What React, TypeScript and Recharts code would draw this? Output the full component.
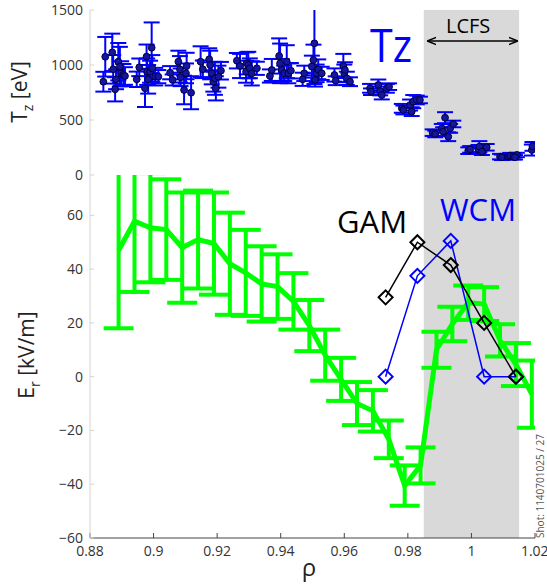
import React from 'react'
import {
  ScatterChart, Scatter, ComposedChart, Line, XAxis, YAxis, ErrorBar, ReferenceArea
} from 'recharts'

// impurity temperature (top panel)
const RHO_T = [
  0.8842, 0.8848, 0.8870, 0.8873, 0.8879, 0.8882, 0.8889, 0.8894, 0.8898, 0.8905, 0.8910,
  0.8947, 0.8955, 0.8973, 0.8978, 0.8980, 0.8983, 0.8989, 0.8994, 0.8996, 0.9005, 0.9015,
  0.9052, 0.9060, 0.9078, 0.9083, 0.9085, 0.9096, 0.9104, 0.9102, 0.9118,
  0.9148, 0.9155, 0.9175, 0.9178, 0.9183, 0.9188, 0.9193, 0.9196, 0.9212, 0.9204,
  0.9262, 0.9272, 0.9291, 0.9293, 0.9298, 0.9303, 0.9309, 0.9325,
  0.9366, 0.9372, 0.9395, 0.9398, 0.9403, 0.9411, 0.9419, 0.9424, 0.9432,
  0.9469, 0.9474, 0.9498, 0.9506, 0.9508, 0.9513, 0.9518, 0.9529, 0.9503,
  0.9569, 0.9573, 0.9597, 0.9600, 0.9608, 0.9618, 0.9602,
  0.9681, 0.9684, 0.9707, 0.9713, 0.9718, 0.9734, 0.9741,
  0.9781, 0.9786, 0.9807, 0.9812, 0.9817, 0.9828, 0.9838,
  0.9878, 0.9886, 0.9907, 0.9911, 0.9917, 0.9927, 0.9933, 0.9943,
  0.9990, 0.9996, 1.0022, 1.0025, 1.0033, 1.0048,
  1.0090, 1.0096, 1.0116, 1.0122, 1.0132, 1.0143, 1.0137,
  1.0190, 1.0192,
]
const TZ = [
  848, 1075, 1115, 961, 779, 870, 1030, 985, 924, 909, 900,
  870, 979, 788, 1076, 939, 870, 939, 1157, 970, 894, 894,
  930, 864, 1030, 961, 888, 773, 991, 924, 748,
  1030, 961, 1052, 1000, 924, 848, 879, 788, 948, 894,
  1039, 991, 939, 1015, 1000, 970, 924, 970,
  900, 955, 1082, 1015, 955, 924, 1030, 924, 948,
  870, 924, 985, 1197, 864, 924, 961, 924, 1045,
  909, 857, 991, 924, 879, 848, 955,
  788, 757, 818, 764, 727, 788, 803,
  606, 591, 636, 576, 667, 682, 682,
  385, 373, 424, 394, 521, 348, 424, 464,
  221, 233, 233, 258, 212, 252,
  167, 161, 167, 176, 167, 182, 161,
  227, 260,
]
const TZ_ERR = [
  90, 180, 170, 130, 110, 90, 170, 180, 110, 100, 80,
  70, 80, 170, 110, 120, 130, 100, 230, 120, 80, 60,
  60, 50, 100, 120, 80, 130, 120, 90, 150,
  140, 80, 100, 130, 100, 90, 150, 110, 80, 100,
  70, 110, 100, 100, 120, 90, 110, 60,
  60, 100, 160, 180, 100, 70, 150, 90, 70,
  60, 70, 100, 370, 60, 80, 90, 60, 140,
  60, 40, 110, 80, 60, 40, 70,
  40, 30, 50, 40, 40, 40, 30,
  40, 40, 50, 40, 60, 40, 30,
  30, 30, 40, 40, 50, 40, 40, 30,
  30, 30, 40, 50, 30, 30,
  25, 25, 25, 25, 25, 20, 20,
  50, 40,
]

// radial electric field (bottom panel)
const RHO_ER = [
  0.889, 0.894, 0.899, 0.904, 0.909, 0.914, 0.919, 0.924, 0.929, 0.934,
  0.939, 0.944, 0.949, 0.954, 0.959, 0.964, 0.969, 0.974, 0.979, 0.984,
  0.989, 0.994, 0.999, 1.004, 1.009, 1.014, 1.019,
]
const ER = [
  47, 57.8, 55.4, 54.7, 48, 51, 49.5, 42, 38.6, 34.5,
  33.5, 28, 19, 8, -1, -10, -12.7, -23.3, -40.5, -33,
  10, 19.6, 27.5, 27, 13.5, 4.5, -6.5,
]
const ER_ERR = [
  29, 26.3, 20.3, 18.7, 20.5, 18.2, 19, 19, 16, 14,
  12, 10.5, 9.5, 9.5, 8, 8, 7.7, 7, 7.5, 6.7,
  6.7, 6.4, 6.4, 6.3, 6, 8, 12.5,
]

// mode positions
const RHO_MODE = [0.973, 0.983, 0.9935, 1.004, 1.014]
const GAM = [29.5, 50, 41.5, 20, 0]
const WCM = [0, 37.5, 50.5, 0, 0]

const X_TICKS = [0.88, 0.9, 0.92, 0.94, 0.96, 0.98, 1, 1.02]
const TZ_TICKS = [0, 500, 1000, 1500]
const ER_TICKS = [-60, -40, -20, 0, 20, 40, 60]

const tzData = RHO_T.map((rho, i) => ({ rho, tz: TZ[i], err: TZ_ERR[i] }))
const erData = RHO_ER.map((rho, i) => ({ rho, er: ER[i], err: ER_ERR[i] }))
const gamData = RHO_MODE.map((rho, i) => ({ rho, v: GAM[i] }))
const wcmData = RHO_MODE.map((rho, i) => ({ rho, v: WCM[i] }))

const FONT = '"Open Sans", "DejaVu Sans", sans-serif'
const tickStyle = { fill: '#333', fontSize: 14, fontFamily: FONT }
const fmt = (v: number) => String(v).replace('-', '\u2212')

// error bars are not clipped by recharts, so clip them to the plot boxes
const css = `
.tz-panel .recharts-errorBars { clip-path: url(#clipTop); }
.er-panel .recharts-errorBars { clip-path: url(#clipBottom); }
`

const Dot = (props: any) => {
  const { cx, cy } = props
  if (cx == null || cy == null) return null
  return <circle cx={cx} cy={cy} r={3.4} fill="#1515a0" stroke="#000040" strokeWidth={1} />
}

const diamond = (color: string) => (props: any) => {
  const { cx, cy, index } = props
  if (cx == null || cy == null) return null
  const s = 7
  return (
    <path
      key={`d-${color}-${index}`}
      d={`M${cx},${cy - s}L${cx + s},${cy}L${cx},${cy + s}L${cx - s},${cy}Z`}
      fill="none"
      stroke={color}
      strokeWidth={2}
    />
  )
}

export default function App() {
  return (
    <div style={{ position: 'absolute', left: 0, top: 0, width: 547, height: 584, fontFamily: FONT, background: '#fff' }}>
      <style>{css}</style>
      <svg width={0} height={0} style={{ position: 'absolute' }}>
        <defs>
          <clipPath id="clipTop" clipPathUnits="userSpaceOnUse">
            <rect x={90} y={10} width={445} height={165} />
          </clipPath>
          <clipPath id="clipBottom" clipPathUnits="userSpaceOnUse">
            <rect x={90} y={10} width={445} height={363} />
          </clipPath>
        </defs>
      </svg>

      {/* top panel: T_z */}
      <div className="tz-panel" style={{ position: 'absolute', left: 0, top: 0 }}>
        <ScatterChart width={547} height={200} margin={{ top: 10, right: 12, bottom: 25, left: 0 }}>
          <XAxis xAxisId="b" type="number" dataKey="rho" domain={[0.88, 1.02]} ticks={X_TICKS}
            allowDataOverflow height={0} tick={false} tickSize={-5} stroke="#444" />
          <XAxis xAxisId="t" orientation="top" type="number" dataKey="rho" domain={[0.88, 1.02]} ticks={X_TICKS}
            allowDataOverflow height={0} tick={false} tickSize={-5} stroke="#444" />
          <YAxis yAxisId="l" type="number" domain={[0, 1500]} ticks={TZ_TICKS} allowDataOverflow
            width={90} stroke="#d4d4d4" tickSize={-4} tickMargin={11} tick={tickStyle} />
          <YAxis yAxisId="r" orientation="right" type="number" domain={[0, 1500]} ticks={TZ_TICKS}
            allowDataOverflow width={0} tick={false} tickSize={-5} stroke="#444" />
          <ReferenceArea xAxisId="b" yAxisId="l" x1={0.985} x2={1.015} y1={0} y2={1500}
            fill="#d9d9d9" fillOpacity={1} stroke="none" />
          <Scatter xAxisId="b" yAxisId="l" data={tzData} dataKey="tz" shape={Dot} isAnimationActive={false}>
            <ErrorBar dataKey="err" direction="y" width={8} stroke="#0000ff" strokeWidth={2} />
          </Scatter>
        </ScatterChart>
      </div>

      {/* bottom panel: E_r */}
      <div className="er-panel" style={{ position: 'absolute', left: 0, top: 165 }}>
        <ComposedChart width={547} height={419} margin={{ top: 10, right: 12, bottom: 0, left: 0 }}>
          <XAxis xAxisId="b" type="number" dataKey="rho" domain={[0.88, 1.02]} ticks={X_TICKS}
            allowDataOverflow height={46} tickSize={-5} tickMargin={13} stroke="#444"
            tick={tickStyle} tickFormatter={fmt} />
          <XAxis xAxisId="t" orientation="top" type="number" dataKey="rho" domain={[0.88, 1.02]} ticks={X_TICKS}
            allowDataOverflow height={0} tick={false} tickSize={-5} stroke="#444" />
          <YAxis yAxisId="l" type="number" domain={[-60, 75]} ticks={ER_TICKS} allowDataOverflow
            width={90} stroke="#d4d4d4" tickSize={-4} tickMargin={11} tick={tickStyle} tickFormatter={fmt} />
          <YAxis yAxisId="r" orientation="right" type="number" domain={[-60, 75]} ticks={ER_TICKS}
            allowDataOverflow width={0} tick={false} tickSize={-5} stroke="#444" />
          <ReferenceArea xAxisId="b" yAxisId="l" x1={0.985} x2={1.015} y1={-60} y2={75}
            fill="#d9d9d9" fillOpacity={1} stroke="none" />
          <Line xAxisId="b" yAxisId="l" data={erData} dataKey="er" type="linear" stroke="#00ff00"
            strokeWidth={5} dot={false} isAnimationActive={false}>
            <ErrorBar dataKey="err" direction="y" width={15} stroke="#00ff00" strokeWidth={4} />
          </Line>
          <Line xAxisId="b" yAxisId="l" data={wcmData} dataKey="v" type="linear" stroke="#0000ff"
            strokeWidth={1.5} dot={diamond('#0000ff')} isAnimationActive={false} />
          <Line xAxisId="b" yAxisId="l" data={gamData} dataKey="v" type="linear" stroke="#000"
            strokeWidth={1.5} dot={diamond('#000')} isAnimationActive={false} />
        </ComposedChart>
      </div>

      {/* annotations and axis titles */}
      <svg width={547} height={584} style={{ position: 'absolute', left: 0, top: 0, pointerEvents: 'none' }}>
        <defs>
          <marker id="ah" viewBox="0 0 10 10" refX="9" refY="5" markerWidth="7" markerHeight="7" orient="auto-start-reverse">
            <path d="M0,1 L10,5 L0,9" fill="none" stroke="#000" strokeWidth={1.6} />
          </marker>
        </defs>
        <text x={370} y={62} fontSize={46} fill="#0000ff" fontFamily={FONT} textLength={42} lengthAdjust="spacingAndGlyphs">Tz</text>
        <text x={446} y={33} fontSize={20} fill="#000" fontFamily={FONT}>LCFS</text>
        <line x1={428} y1={41} x2={517} y2={41} stroke="#000" strokeWidth={1.3} markerStart="url(#ah)" markerEnd="url(#ah)" />
        <text x={337} y={233} fontSize={31} fill="#000" fontFamily={FONT}>GAM</text>
        <text x={440} y={221} fontSize={31} fill="#0000ff" fontFamily={FONT}>WCM</text>

        <text transform="translate(27,92) rotate(-90)" textAnchor="middle" fontSize={21} fill="#222" fontFamily={FONT}>
          T<tspan fontSize={14} dy={6}>z</tspan><tspan dy={-6}> [eV]</tspan>
        </text>
        <text transform="translate(34,355) rotate(-90)" textAnchor="middle" fontSize={21} fill="#222" fontFamily={FONT}>
          E<tspan fontSize={14} dy={6}>r</tspan><tspan dy={-6}> [kV/m]</tspan>
        </text>
        <text x={309} y={576} textAnchor="middle" fontSize={24} fill="#222" fontFamily={FONT}>ρ</text>
        <text transform="translate(544,538) rotate(-90)" fontSize={10} fill="#555" fontFamily={FONT}>Shot: 1140701025 / 27</text>
      </svg>
    </div>
  )
}
